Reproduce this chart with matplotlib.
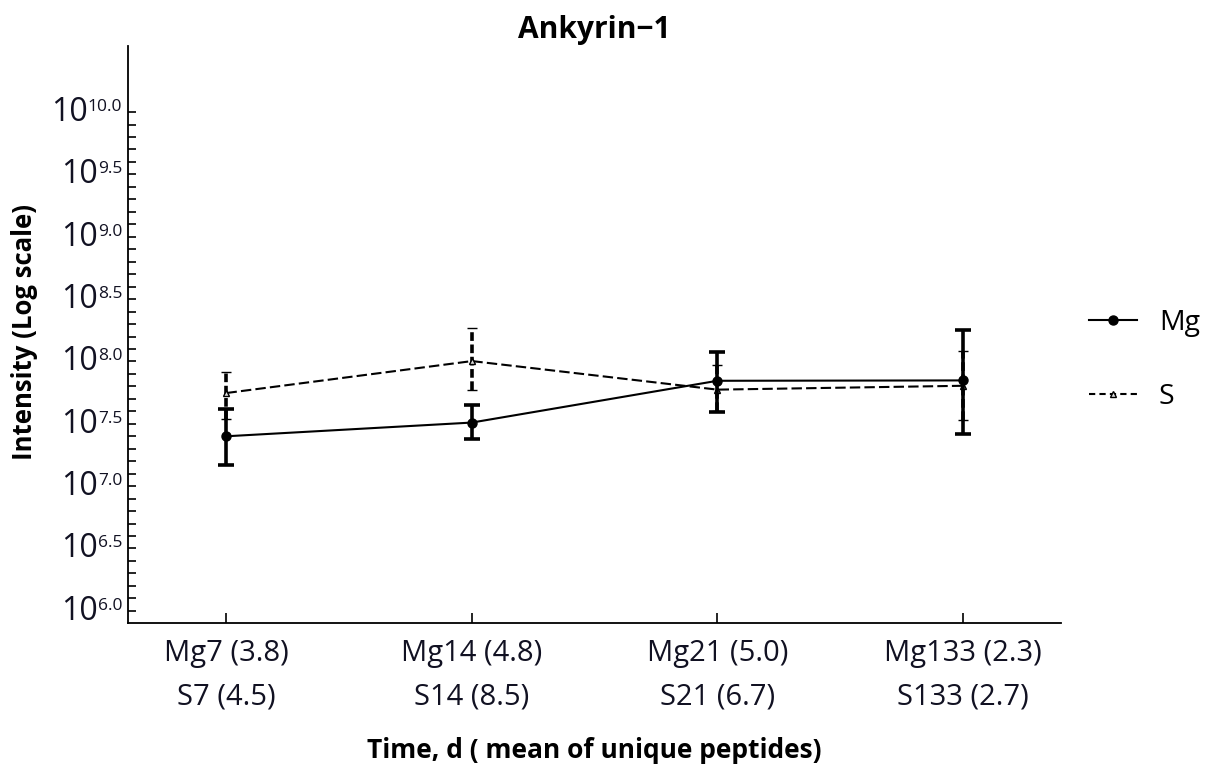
import numpy as np
import matplotlib
matplotlib.use("Agg")
import matplotlib.pyplot as plt
from matplotlib.lines import Line2D

plt.rcParams["font.family"] = ["Open Sans", "DejaVu Sans"]

title = "Ankyrin\u22121"
x_title = "Time, d ( mean of unique peptides)"
y_title = "Intensity (Log scale)"
group_labels = ["Mg7 (3.8)\nS7 (4.5)", "Mg14 (4.8)\nS14 (8.5)",
                "Mg21 (5.0)\nS21 (6.7)", "Mg133 (2.3)\nS133 (2.7)"]
series_names = ["Mg", "S"]

# log10 of intensity: mean, lower and upper end of the error bar
mg_mean = [7.40, 7.51, 7.845, 7.848]
mg_low = [7.17, 7.375, 7.594, 7.421]
mg_high = [7.618, 7.654, 8.075, 8.249]
s_mean = [7.747, 8.003, 7.774, 7.805]
s_low = [7.541, 7.768, 7.600, 7.528]
s_high = [7.913, 8.271, 7.969, 8.081]

y_exponents = [6.0, 6.5, 7.0, 7.5, 8.0, 8.5, 9.0, 9.5, 10.0]


def to_err(mean, low, high):
    m = 10 ** np.asarray(mean)
    return m, np.vstack([m - 10 ** np.asarray(low), 10 ** np.asarray(high) - m])


fig = plt.figure(figsize=(12.08, 7.66), dpi=100)
ax = fig.add_axes([128.3 / 1208, 1 - 623.3 / 766, (1061 - 128.3) / 1208, (623.3 - 46) / 766])

x = np.arange(1, len(group_labels) + 1)
ink = "black"
text_ink = "#111122"

mg_y, mg_e = to_err(mg_mean, mg_low, mg_high)
s_y, s_e = to_err(s_mean, s_low, s_high)

s_bar = ax.errorbar(x, s_y, yerr=s_e, color=ink, lw=1.5, ls=(0, (5, 2)),
                    marker="^", ms=5, mfc="#dddddd", mec=ink, mew=1.0,
                    elinewidth=2.6, capsize=3.5, capthick=2.6, zorder=2)
s_bar[2][0].set_linestyle((0, (2.4, 1.0)))

ax.errorbar(x, mg_y, yerr=mg_e, color=ink, lw=1.5, marker="o", ms=6.5,
            elinewidth=2.6, capsize=6, capthick=2.6, zorder=3)

ax.set_yscale("log")
ax.set_ylim(10 ** 5.9, 10 ** 10.53)
ax.set_xlim(0.6, 4.4)

for side in ("top", "right"):
    ax.spines[side].set_visible(False)
for side in ("left", "bottom"):
    ax.spines[side].set_linewidth(1.3)

ax.set_xticks(x)
ax.set_xticklabels(group_labels, fontsize=21, linespacing=1.7, color=text_ink)
ax.tick_params(axis="x", direction="in", length=7, width=1.2, pad=11)

major = [10 ** e for e in y_exponents]
minor = [10 ** e for e in np.round(np.arange(6.0, 10.0001, 0.1), 1)]
ax.set_yticks(major)
ax.set_yticklabels([""] * len(major))
ax.set_yticks(minor, minor=True)
ax.yaxis.set_minor_formatter(plt.NullFormatter())
ax.tick_params(axis="y", which="both", direction="in", length=6, width=1.2)

# y tick labels written as 10 with a small raised exponent
for e in y_exponents:
    sup = ax.annotate(f"{e:.1f}", xy=(0, 10 ** e), xycoords=("axes fraction", "data"),
                      xytext=(-6, 1), textcoords="offset pixels",
                      ha="right", va="baseline", fontsize=12.5, color=text_ink)
    ax.annotate("10", xy=(0, 0), xycoords=sup, xytext=(0, -6),
                textcoords="offset pixels", ha="right", va="baseline",
                fontsize=23, color=text_ink)

fig.text((128.3 + 1061) / 2 / 1208, 1 - 30 / 766, title, ha="center", va="center",
         fontsize=21.5, fontweight="bold")
fig.text((128.3 + 1061) / 2 / 1208, 1 - 750 / 766, x_title, ha="center", va="center",
         fontsize=19, fontweight="bold")
fig.text(25 / 1208, 1 - 332 / 766, y_title, ha="center", va="center", rotation=90,
         fontsize=18.5, fontweight="bold")

handles = [
    Line2D([], [], color=ink, lw=1.5, marker="o", ms=6.5),
    Line2D([], [], color=ink, lw=1.5, ls=(0, (3, 2)), marker="^", ms=5,
           mfc="#dddddd", mec=ink, mew=1.0),
]
fig.legend(handles, series_names, loc="center left", bbox_to_anchor=(1089 / 1208, 1 - 360 / 766),
           frameon=False, fontsize=20.5, handlelength=1.68, handletextpad=0.77,
           labelspacing=1.6, borderpad=0, borderaxespad=0)

fig.savefig("out.png", dpi=100)
